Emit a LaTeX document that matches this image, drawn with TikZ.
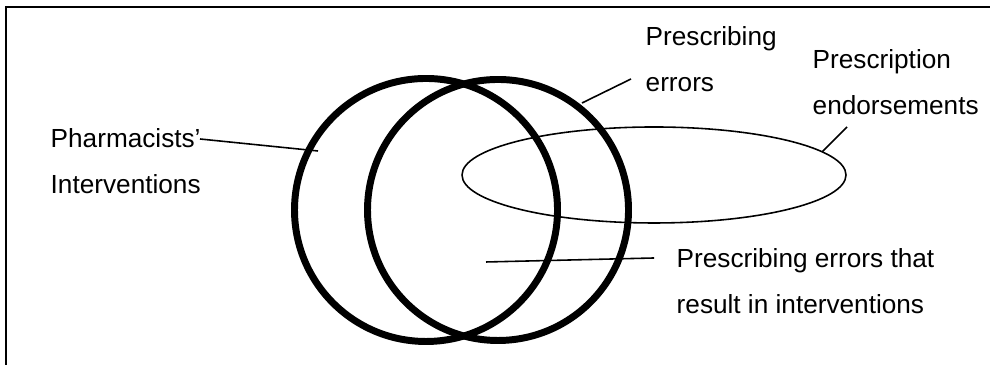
\documentclass[tikz,border=0pt]{standalone}
\usepackage{fontspec}
\setmainfont{Liberation Sans}
\usepackage{tikz}
\usetikzlibrary{shapes.geometric,positioning}

\begin{document}
\begin{tikzpicture}[
    setbox/.style={draw=black, line width=1.98pt, circle, inner sep=0pt, minimum size=2.63cm},
    endorsebox/.style={draw=black, line width=0.45pt, ellipse, inner sep=0pt, minimum width=3.84cm, minimum height=0.96cm},
    label/.style={anchor=base west, align=left, inner sep=0pt, font=\fontsize{7.45pt}{13.3pt}\selectfont},
    leader/.style={draw=black, line width=0.45pt}]
  \useasboundingbox (0,0) rectangle (10,3.65);

  % Frame (left and top edges only)
  \draw[line width=0.6pt] (0.06,0) -- (0.06,3.58) -- (9.90,3.58);

  % Sets
  \node[setbox] (interv) at (4.26,1.55) {};
  \node[setbox, minimum size=2.61cm] (errors) at (4.98,1.55) {};
  \node[endorsebox] (endorse) at (6.54,1.90) {};

  % Labels (placed at the baseline of their last line)
  \node[label] (interv_lbl) at (0.50,1.71) {Pharmacists’\\Interventions};
  \node[label] (errors_lbl) at (6.45,2.73) {Prescribing\\errors};
  \node[label] (endorse_lbl) at (8.12,2.50) {Prescription\\endorsements};
  \node[label] (both_lbl) at (6.76,0.51) {Prescribing errors that\\result in interventions};

  % Leader ends
  \coordinate (interv_a) at (2.00,2.26);
  \coordinate (interv_b) at (3.18,2.14);
  \coordinate (errors_a) at (6.31,2.86);
  \coordinate (errors_b) at (5.82,2.62);
  \coordinate (endorse_a) at (8.47,2.38);
  \coordinate (endorse_b) at (8.22,2.13);
  \coordinate (both_a) at (6.54,1.07);
  \coordinate (both_b) at (4.86,1.03);

  % Leaders
  \draw[leader] (interv_a) -- (interv_b);
  \draw[leader] (errors_a) -- (errors_b);
  \draw[leader] (endorse_a) -- (endorse_b);
  \draw[leader] (both_a) -- (both_b);
\end{tikzpicture}
\end{document}
